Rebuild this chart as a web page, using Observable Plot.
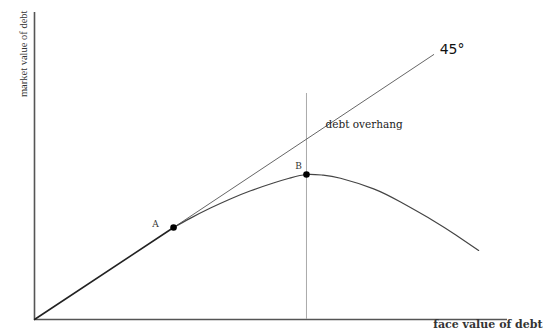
<!DOCTYPE html>
<html>
<head>
<meta charset="utf-8">
<script src="https://cdn.jsdelivr.net/npm/d3@7"></script>
<script src="https://cdn.jsdelivr.net/npm/@observablehq/plot@0.6"></script>
<style>
  html, body { margin: 0; padding: 0; background: #fff; }
  #chart svg { display: block; }
</style>
</head>
<body>
<div id="chart"></div>
<script>
// Face value (x) and market value (y) of debt, in arbitrary units (45° line: y = x)
const diagonalX = [0, 84.4];
const diagonalY = [0, 84.4];

const pointNames = ["A", "B"];
const pointX = [29.4, 57.5];
const pointY = [29.3, 46.2];

const curveX = [29.4, 33.0, 37.2, 41.4, 45.7, 50.5, 54.1, 57.5, 60.9, 64.7, 71.7, 77.4, 84.4, 89.0, 93.9];
const curveY = [29.3, 32.3, 35.5, 38.4, 41.0, 43.5, 45.1, 46.2, 46.0, 45.0, 41.6, 37.4, 31.4, 27.0, 22.0];

const overhangTop = 72;
const xDomain = [0, 100];
const yDomain = [0, 97.8];

const xLabel = "face value of debt";
const yLabel = "market value of debt";
const diagonalLabel = "45°";
const overhangLabel = "debt overhang";

const curve = curveX.map((x, i) => ({x, y: curveY[i]}));
const points = pointNames.map((name, i) => ({name, x: pointX[i], y: pointY[i]}));
const diagonal = diagonalX.map((x, i) => ({x, y: diagonalY[i]}));
const A = points[0], B = points[1];

const chart = Plot.plot({
  width: 543,
  height: 334,
  marginLeft: 34,
  marginRight: 36,
  marginTop: 12,
  marginBottom: 15,
  x: {domain: xDomain, axis: null},
  y: {domain: yDomain, axis: null},
  style: {background: "#fff"},
  marks: [
    // axes
    Plot.ruleX([0], {y1: 0, y2: yDomain[1], stroke: "#555", strokeWidth: 1.6}),
    Plot.ruleY([0], {x1: 0, x2: xDomain[1], stroke: "#555", strokeWidth: 1.6}),
    // vertical line through B
    Plot.ruleX([B], {x: "x", y1: 0, y2: overhangTop, stroke: "#aaa", strokeWidth: 1}),
    // 45° line beyond A
    Plot.line([A, diagonal[1]], {x: "x", y: "y", stroke: "#666", strokeWidth: 1}),
    // 45° line origin to A
    Plot.line([diagonal[0], A], {x: "x", y: "y", stroke: "#222", strokeWidth: 1.6}),
    // market value curve
    Plot.line(curve, {x: "x", y: "y", curve: "natural", stroke: "#444", strokeWidth: 1.2}),
    // points
    Plot.dot(points, {x: "x", y: "y", r: 3.3, fill: "#000"}),
    // point labels
    Plot.text([A], {x: "x", y: "y", text: "name", dx: -18, dy: -3, fontFamily: "DejaVu Serif", fontSize: 9, fill: "#333"}),
    Plot.text([B], {x: "x", y: "y", text: "name", dx: -8, dy: -8, fontFamily: "DejaVu Serif", fontSize: 9, fill: "#333"}),
    Plot.text([diagonal[1]], {x: "x", y: "y", text: () => diagonalLabel, dx: 6, dy: -5, textAnchor: "start", fontFamily: "DejaVu Sans", fontSize: 14, fill: "#111"}),
    Plot.text([B], {x: "x", y: "y", text: () => overhangLabel, dx: 19, dy: -50, textAnchor: "start", fontFamily: "DejaVu Serif", fontSize: 10.5, fill: "#222"}),
    // axis labels
    Plot.text([xLabel], {frameAnchor: "bottom-right", textAnchor: "end", dx: 35, dy: 8, fontFamily: "DejaVu Serif", fontWeight: "bold", fontSize: 11, fill: "#333"}),
    Plot.text([yLabel], {frameAnchor: "top-left", textAnchor: "end", rotate: -90, dx: -15, dy: -2, fontFamily: "Liberation Serif", fontSize: 10.5, fill: "#333"})
  ]
});

document.getElementById("chart").appendChild(chart);
</script>
</body>
</html>
